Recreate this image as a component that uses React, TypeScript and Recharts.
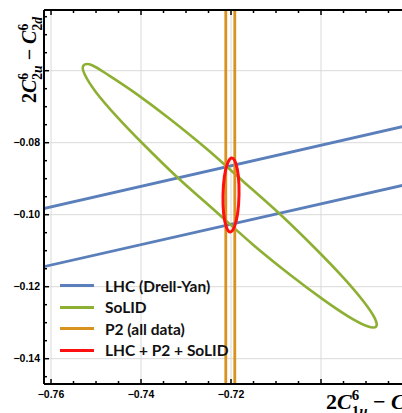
import React from "react";
import { CartesianGrid, Legend, Line, LineChart, XAxis, YAxis } from "recharts";

const BLUE = "#5b7fbb";
const GREEN = "#8db032";
const ORANGE = "#d9921e";
const RED = "#ff1010";

const X_DOMAIN = [-0.76156, -0.682];
const Y_DOMAIN = [-0.14703, -0.04314];

const X_TICKS = [
  -0.76, -0.755, -0.75, -0.745, -0.74, -0.735, -0.73, -0.725, -0.72, -0.715, -0.71, -0.705, -0.7,
  -0.695, -0.69, -0.685,
];
const X_GRID = [-0.76, -0.74, -0.72, -0.7];
const X_LABELS = [-0.76, -0.74, -0.72];

const Y_TICKS = [
  -0.145, -0.14, -0.135, -0.13, -0.125, -0.12, -0.115, -0.11, -0.105, -0.1, -0.095, -0.09, -0.085,
  -0.08, -0.075, -0.07, -0.065, -0.06, -0.055, -0.05, -0.045,
];
const Y_GRID = [-0.14, -0.12, -0.1, -0.08, -0.06];
const Y_LABELS = [-0.14, -0.12, -0.1, -0.08];

// LHC (Drell-Yan) band edges
const LHC_X = [-0.765, -0.68];
const LHC_UPPER_Y = [-0.09926, -0.07499];
const LHC_LOWER_Y = [-0.11541, -0.09132];

// SoLID ellipse outline
const SOLID_X = [
  -0.68776, -0.68807, -0.69058, -0.69509, -0.70136, -0.70891, -0.71733, -0.72576, -0.73393, -0.74118,
  -0.74698, -0.75089, -0.7528, -0.75253, -0.75009, -0.74558, -0.73931, -0.73176, -0.72331, -0.71491,
  -0.70673, -0.69949, -0.69369, -0.68967,
];
const SOLID_Y = [
  -0.13108, -0.12872, -0.12406, -0.11742, -0.10925, -0.10008, -0.09069, -0.08136, -0.07308, -0.06631,
  -0.06144, -0.05847, -0.05858, -0.061, -0.06583, -0.07247, -0.08064, -0.08981, -0.09919, -0.10853,
  -0.11681, -0.12358, -0.12844, -0.131,
];

// P2 (all data) band edges
const P2_LEFT_X = -0.72116;
const P2_RIGHT_X = -0.71916;
const P2_Y = [-0.15, -0.04];

// LHC + P2 + SoLID combined ellipse
const COMBINED_X = [
  -0.71982, -0.71896, -0.71836, -0.71822, -0.71853, -0.71927, -0.72018, -0.72104, -0.72164, -0.72178,
  -0.72147, -0.72073,
];
const COMBINED_Y = [
  -0.08425, -0.08564, -0.08939, -0.09453, -0.09967, -0.10342, -0.10481, -0.10342, -0.09967, -0.09453,
  -0.08939, -0.08564,
];

const LEGEND_LABELS = ["LHC (Drell-Yan)", "SoLID", "P2 (all data)", "LHC + P2 + SoLID"];
const LEGEND_COLORS = [BLUE, GREEN, ORANGE, RED];

const zip = (xs: number[], ys: number[]) => xs.map((x, i) => ({ x, y: ys[i] }));

const lhcUpper = zip(LHC_X, LHC_UPPER_Y);
const lhcLower = zip(LHC_X, LHC_LOWER_Y);
const solid = zip(SOLID_X, SOLID_Y);
const p2Left = P2_Y.map((y) => ({ x: P2_LEFT_X, y }));
const p2Right = P2_Y.map((y) => ({ x: P2_RIGHT_X, y }));
const combined = zip(COMBINED_X, COMBINED_Y);

// closed Catmull-Rom curve so the ellipses come out smooth
const closedSpline = (context: any) => {
  let pts: number[][] = [];
  return {
    areaStart() {},
    areaEnd() {},
    lineStart() {
      pts = [];
    },
    point(x: number, y: number) {
      pts.push([+x, +y]);
    },
    lineEnd() {
      const n = pts.length;
      if (n < 3) return;
      context.moveTo(pts[0][0], pts[0][1]);
      for (let i = 0; i < n; i++) {
        const p0 = pts[(i + n - 1) % n];
        const p1 = pts[i];
        const p2 = pts[(i + 1) % n];
        const p3 = pts[(i + 2) % n];
        context.bezierCurveTo(
          p1[0] + (p2[0] - p0[0]) / 6,
          p1[1] + (p2[1] - p0[1]) / 6,
          p2[0] - (p3[0] - p1[0]) / 6,
          p2[1] - (p3[1] - p1[1]) / 6,
          p2[0],
          p2[1]
        );
      }
      context.closePath();
    },
  };
};

const isIn = (list: number[], v: number) => list.some((t) => Math.abs(t - v) < 1e-9);
const fmt = (v: number) => v.toFixed(2).replace("-", "\u2212");

const TICK_FONT = {
  fontFamily: "'Liberation Sans', Arial, sans-serif",
  fontWeight: 700,
  fontSize: 10.5,
  fill: "#000",
};

function BottomTick({ x, y, payload }: any) {
  const v = payload.value;
  const len = isIn(X_GRID, v) ? 5 : 3;
  return (
    <g>
      <line x1={x} x2={x} y1={y} y2={y - len} stroke="#000" strokeWidth={1.5} />
      {isIn(X_LABELS, v) && (
        <text x={x} y={y + 14} textAnchor="middle" style={TICK_FONT}>
          {fmt(v)}
        </text>
      )}
    </g>
  );
}

function TopTick({ x, y, payload }: any) {
  const len = isIn(X_GRID, payload.value) ? 5 : 3;
  return <line x1={x} x2={x} y1={y} y2={y + len} stroke="#000" strokeWidth={1.5} />;
}

function LeftTick({ x, y, payload }: any) {
  const v = payload.value;
  const len = isIn(Y_GRID, v) ? 5 : 3;
  return (
    <g>
      <line x1={x} x2={x + len} y1={y} y2={y} stroke="#000" strokeWidth={1.5} />
      {isIn(Y_LABELS, v) && (
        <text x={x - 4} y={y + 3.8} textAnchor="end" style={TICK_FONT}>
          {fmt(v)}
        </text>
      )}
    </g>
  );
}

function MathTitle({ x, y, angle, sub1, sub2, size }: any) {
  const s = size * 0.68;
  const up = size * 0.42;
  const down = size * 0.3;
  return (
    <text
      x={x}
      y={y}
      transform={angle ? `rotate(${angle} ${x} ${y})` : undefined}
      fontFamily="'Liberation Serif', 'DejaVu Serif', serif"
      fontWeight="bold"
      fontSize={size}
      fill="#000"
      style={{ whiteSpace: "pre" }}
    >
      <tspan>2</tspan>
      <tspan fontStyle="italic">C</tspan>
      <tspan fontSize={s} dy={-up}>6</tspan>
      <tspan fontSize={s} dx={-s * 0.5} dy={up + down}>{sub1[0]}</tspan>
      <tspan fontSize={s} fontStyle="italic">{sub1[1]}</tspan>
      <tspan dy={-down}>{" \u2212 "}</tspan>
      <tspan fontStyle="italic">C</tspan>
      <tspan fontSize={s} dy={-up}>6</tspan>
      <tspan fontSize={s} dx={-s * 0.5} dy={up + down}>{sub2[0]}</tspan>
      <tspan fontSize={s} fontStyle="italic">{sub2[1]}</tspan>
    </text>
  );
}

function XTitle({ viewBox }: any) {
  return <MathTitle x={viewBox.x + viewBox.width - 76} y={viewBox.y + 25} sub1="1u" sub2="1d" size={22} />;
}

function YTitle({ viewBox }: any) {
  return <MathTitle x={viewBox.x + 36} y={viewBox.y + 93} angle={-90} sub1="2u" sub2="2d" size={20} />;
}

function LegendBox() {
  return (
    <div style={{ display: "flex", flexDirection: "column" }}>
      {LEGEND_LABELS.map((label, i) => (
        <div key={label} style={{ display: "flex", alignItems: "center", height: 21.5 }}>
          <span style={{ width: 34, height: 3, background: LEGEND_COLORS[i], marginRight: 11 }} />
          <span
            style={{
              fontFamily: "Lato, 'Liberation Sans', sans-serif",
              fontWeight: 700,
              fontSize: 15.5,
              color: "#111",
              whiteSpace: "nowrap",
            }}
          >
            {label}
          </span>
        </div>
      ))}
    </div>
  );
}

export default function App() {
  return (
    <div style={{ position: "absolute", left: 0, top: 0, width: 402, height: 413, background: "#fff" }}>
      <LineChart width={402} height={413} margin={{ top: 0, right: 0, bottom: 0, left: 0 }}>
        <CartesianGrid horizontalValues={Y_GRID} verticalValues={X_GRID} stroke="#d9d9d9" strokeWidth={1} />
        <XAxis
          dataKey="x"
          type="number"
          domain={X_DOMAIN}
          allowDataOverflow
          ticks={X_TICKS}
          interval={0}
          height={29}
          tickSize={0}
          tickMargin={0}
          tickLine={false}
          tick={(p: any) => <BottomTick {...p} />}
          axisLine={{ stroke: "#000", strokeWidth: 2 }}
          label={(p: any) => <XTitle {...p} />}
        />
        <XAxis
          xAxisId="top"
          orientation="top"
          dataKey="x"
          type="number"
          domain={X_DOMAIN}
          allowDataOverflow
          ticks={X_TICKS}
          interval={0}
          height={10}
          tickSize={0}
          tickMargin={0}
          tickLine={false}
          tick={(p: any) => <TopTick {...p} />}
          axisLine={{ stroke: "#000", strokeWidth: 2 }}
        />
        <YAxis
          type="number"
          domain={Y_DOMAIN}
          allowDataOverflow
          ticks={Y_TICKS}
          interval={0}
          width={44}
          tickSize={0}
          tickMargin={0}
          tickLine={false}
          tick={(p: any) => <LeftTick {...p} />}
          axisLine={{ stroke: "#000", strokeWidth: 2 }}
          label={(p: any) => <YTitle {...p} />}
        />
        <Line data={lhcUpper} dataKey="y" stroke={BLUE} strokeWidth={2.8} dot={false} activeDot={false} isAnimationActive={false} />
        <Line data={lhcLower} dataKey="y" stroke={BLUE} strokeWidth={2.8} dot={false} activeDot={false} isAnimationActive={false} />
        <Line
          data={solid}
          dataKey="y"
          type={closedSpline as any}
          stroke={GREEN}
          strokeWidth={2.6}
          dot={false}
          activeDot={false}
          isAnimationActive={false}
        />
        <Line data={p2Left} dataKey="y" stroke={ORANGE} strokeWidth={2.8} dot={false} activeDot={false} isAnimationActive={false} />
        <Line data={p2Right} dataKey="y" stroke={ORANGE} strokeWidth={2.8} dot={false} activeDot={false} isAnimationActive={false} />
        <Line
          data={combined}
          dataKey="y"
          type={closedSpline as any}
          stroke={RED}
          strokeWidth={3}
          dot={false}
          activeDot={false}
          isAnimationActive={false}
        />
        <Legend
          layout="horizontal"
          verticalAlign="middle"
          align="center"
          wrapperStyle={{ left: 60, top: 275, width: "auto", height: "auto" }}
          content={() => <LegendBox />}
        />
      </LineChart>
    </div>
  );
}
